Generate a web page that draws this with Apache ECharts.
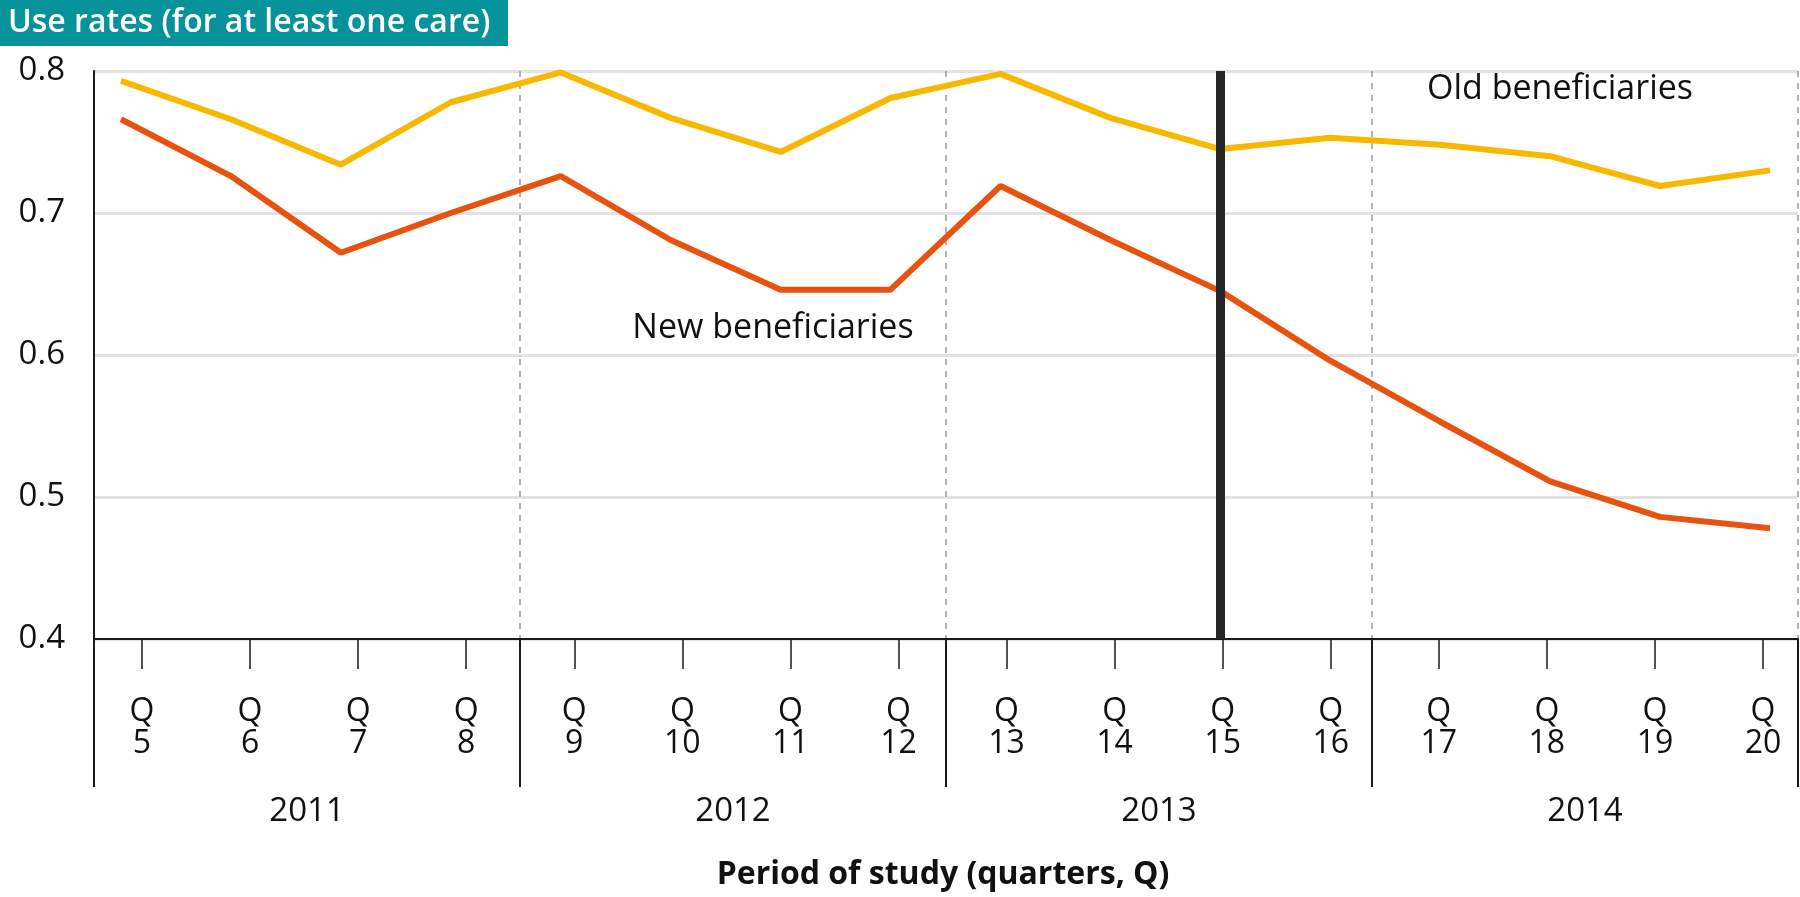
<!DOCTYPE html>
<html>
<head>
<meta charset="utf-8">
<script src="https://cdn.jsdelivr.net/npm/echarts@6/dist/echarts.min.js"></script>
<style>
html,body{margin:0;padding:0;background:#fff;}
#chart{width:1800px;height:897px;}
</style>
</head>
<body>
<div id="chart"></div>
<script>
var quarters = ['Q5','Q6','Q7','Q8','Q9','Q10','Q11','Q12','Q13','Q14','Q15','Q16','Q17','Q18','Q19','Q20'];
var years = ['2011','2012','2013','2014'];
var oldBeneficiaries = [0.793, 0.766, 0.734, 0.778, 0.799, 0.767, 0.743, 0.781, 0.798, 0.767, 0.745, 0.753, 0.748, 0.740, 0.719, 0.730];
var newBeneficiaries = [0.766, 0.726, 0.672, 0.700, 0.726, 0.681, 0.646, 0.646, 0.719, 0.681, 0.645, 0.596, 0.553, 0.511, 0.486, 0.478];
var yTicks = [0.4, 0.5, 0.6, 0.7, 0.8];
var markerQuarter = 'Q15';
var titleText = 'Use rates (for at least one care)';
var xTitle = 'Period of study (quarters, Q)';
var oldLabel = 'Old beneficiaries';
var newLabel = 'New beneficiaries';

var FONT = '"Open Sans", "Noto Sans", sans-serif';
var chart = echarts.init(document.getElementById('chart'), null, {renderer: 'canvas'});

var yMin = yTicks[0], yMax = yTicks[yTicks.length - 1], yStep = yTicks[1] - yTicks[0];

var option = {
  animation: false,
  backgroundColor: '#ffffff',
  grid: [
    {left: 94, right: 2, top: 71, bottom: 258},
    {left: 142, right: 37, top: 71, bottom: 258},
    {left: 121, right: 30, top: 71, bottom: 258}
  ],
  xAxis: [
    {
      gridIndex: 0, type: 'category', data: years, boundaryGap: true,
      axisLine: {show: true, lineStyle: {color: '#1a1a1a', width: 2}},
      axisTick: {show: true, interval: 0, length: 148, lineStyle: {color: '#1a1a1a', width: 2}},
      axisLabel: {interval: 0, margin: 156, fontSize: 33, color: '#111', fontFamily: FONT},
      splitLine: {show: true, interval: 0, lineStyle: {color: '#9a9a9a', width: 1.5, type: [6, 6]}}
    },
    {
      gridIndex: 1, type: 'category', data: quarters, boundaryGap: false,
      axisLine: {show: false},
      axisTick: {show: true, interval: 0, length: 30, lineStyle: {color: '#1a1a1a', width: 1.5}},
      axisLabel: {
        interval: 0, margin: 57, fontSize: 32, lineHeight: 32, color: '#111', fontFamily: FONT,
        formatter: function (v) { return v.replace('Q', 'Q\n'); }
      },
      splitLine: {show: false}
    },
    {
      gridIndex: 2, type: 'category', data: quarters, boundaryGap: false, show: false
    }
  ],
  yAxis: [
    {
      gridIndex: 0, type: 'value', min: yMin, max: yMax, interval: yStep,
      axisLine: {show: true, lineStyle: {color: '#1a1a1a', width: 2}},
      axisTick: {show: false},
      axisLabel: {margin: 29, fontSize: 33, color: '#111', fontFamily: FONT,
        formatter: function (v) { return v.toFixed(1); }},
      splitLine: {show: true, lineStyle: {color: '#e2e2e2', width: 3}}
    },
    {gridIndex: 1, type: 'value', min: yMin, max: yMax, show: false},
    {gridIndex: 2, type: 'value', min: yMin, max: yMax, show: false}
  ],
  series: [
    {
      name: newLabel, type: 'line', xAxisIndex: 2, yAxisIndex: 2,
      data: newBeneficiaries, symbol: 'none', z: 3,
      lineStyle: {color: '#E8520F', width: 6},
      itemStyle: {color: '#E8520F'}
    },
    {
      name: oldLabel, type: 'line', xAxisIndex: 2, yAxisIndex: 2,
      data: oldBeneficiaries, symbol: 'none', z: 3,
      lineStyle: {color: '#F9B800', width: 6},
      itemStyle: {color: '#F9B800'},
      markLine: {
        silent: true, symbol: ['none', 'none'], animation: false,
        label: {show: false},
        lineStyle: {color: '#262626', width: 9, type: 'solid'},
        data: [{xAxis: markerQuarter}],
        z: 10
      }
    }
  ],
  graphic: [
    {type: 'rect', left: 0, top: 0, shape: {width: 508, height: 46}, style: {fill: '#06929A'}, z: 10},
    {type: 'text', x: 8, y: 23, z: 11, style: {text: titleText, fill: '#ffffff', font: '600 32px ' + FONT, textAlign: 'left', textVerticalAlign: 'middle'}},
    {type: 'text', x: 1560, y: 89, z: 11, style: {text: oldLabel, fill: '#111', font: '34px ' + FONT, textAlign: 'center', textVerticalAlign: 'middle'}},
    {type: 'text', x: 773, y: 328, z: 11, style: {text: newLabel, fill: '#111', font: '34px ' + FONT, textAlign: 'center', textVerticalAlign: 'middle'}},
    {type: 'text', x: 943, y: 875, z: 11, style: {text: xTitle, fill: '#111', font: 'bold 32px ' + FONT, textAlign: 'center', textVerticalAlign: 'middle'}}
  ]
};
chart.setOption(option);
</script>
</body>
</html>
